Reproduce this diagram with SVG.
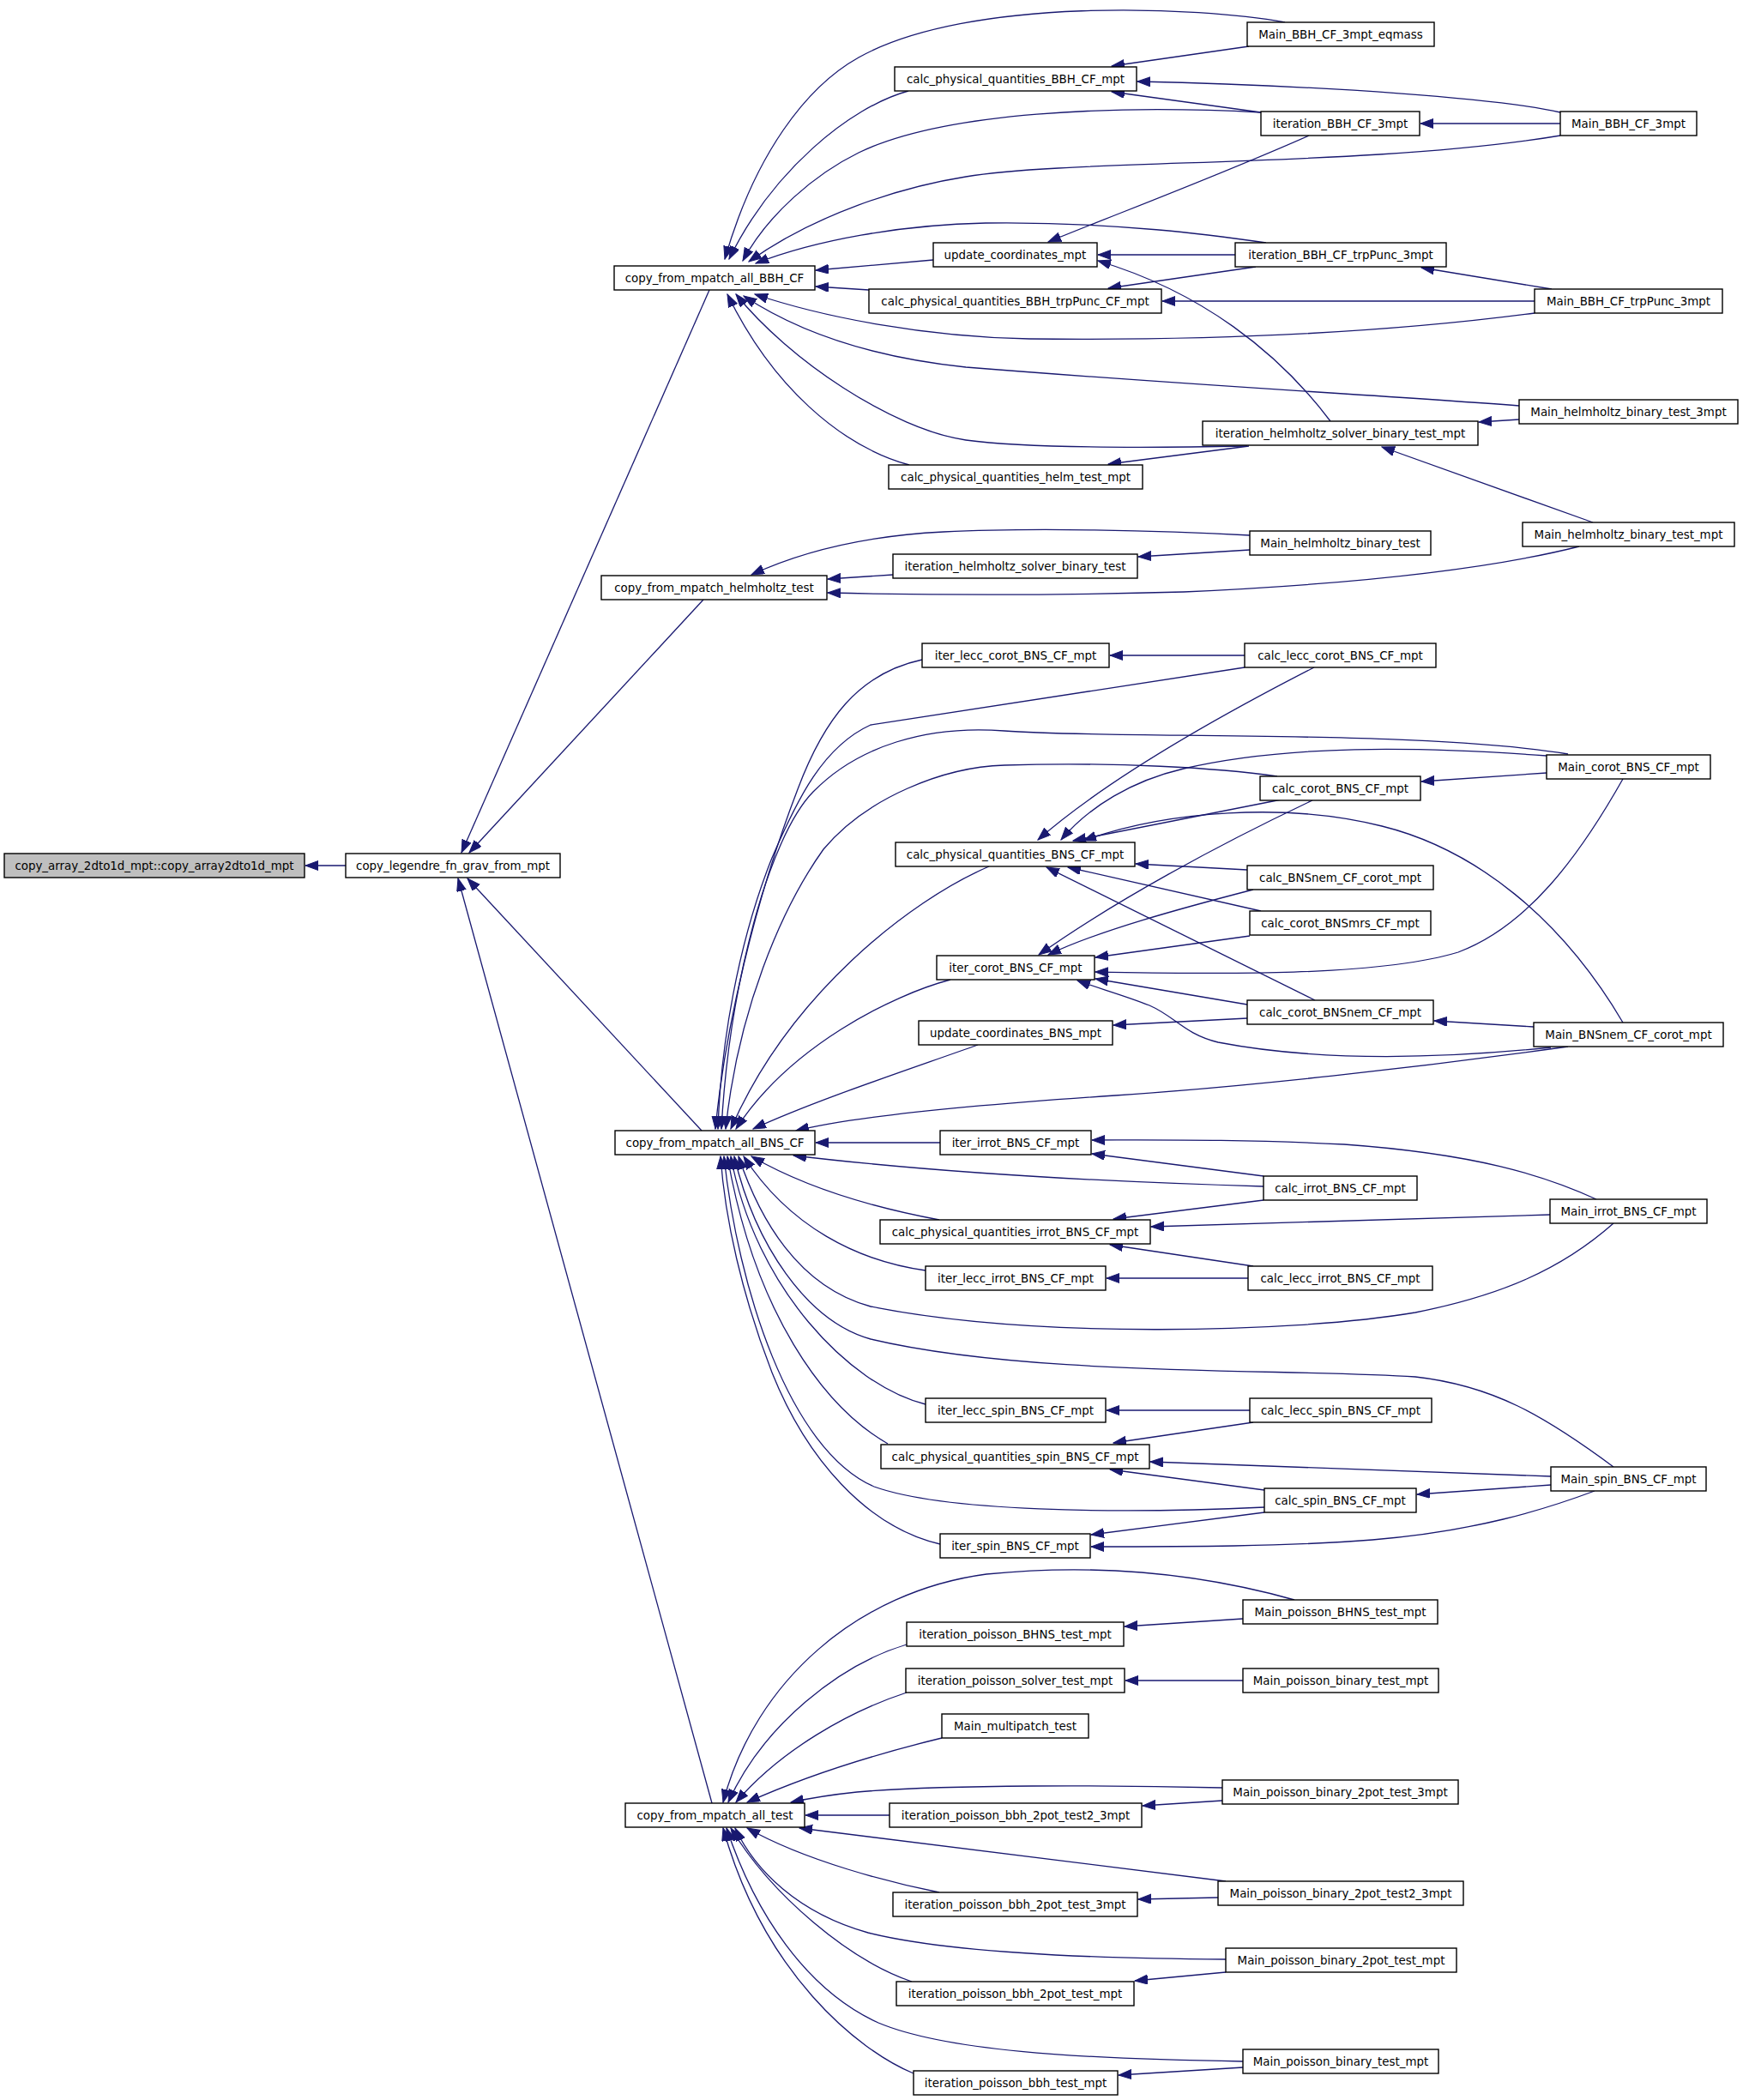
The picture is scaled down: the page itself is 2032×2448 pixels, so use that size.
<svg xmlns="http://www.w3.org/2000/svg" width="2032" height="2448" viewBox="0 0 2032 2448">
<style>
.n{fill:#ffffff;stroke:#000000;stroke-width:1.4}
.g{fill:#bfbfbf;stroke:#000000;stroke-width:1.4}
.t{font-family:"DejaVu Sans","Liberation Sans",sans-serif;font-size:13.4px;fill:#000000;text-anchor:middle}
.e{fill:none;stroke:#191970;stroke-width:1.3;marker-end:url(#ah)}
</style>
<defs>
<marker id="ah" markerUnits="userSpaceOnUse" markerWidth="16" markerHeight="12" refX="15" refY="5.5" orient="auto">
<path d="M0,0 L15,5.5 L0,11 z" fill="#191970" stroke="#191970" stroke-width="1"/>
</marker>
</defs>
<rect x="0" y="0" width="2032" height="2448" fill="#ffffff"/>
<g id="edges">
<path class="e" d="M403,1009 L356,1009"/>
<path class="e" d="M827,338 L538,994"/>
<path class="e" d="M820,699 L547,994"/>
<path class="e" d="M818,1318 L545,1024"/>
<path class="e" d="M830,2102 L534,1024"/>
<path class="e" d="M1498,26 C1400,8 1130,-5 1001,67 C940,101 880,180 845,302"/>
<path class="e" d="M1059,106 C990,125 900,200 850,302"/>
<path class="e" d="M1470,131 C1300,122 1100,130 1001,178 C950,203 895,250 866,304"/>
<path class="e" d="M1819,158 C1600,195 1250,185 1126,206 C1050,218 950,250 873,305"/>
<path class="e" d="M1088,303 L951,315"/>
<path class="e" d="M1476,283 C1420,275 1300,258 1149,260 C1050,262 950,280 881,307"/>
<path class="e" d="M1013,338 L951,334"/>
<path class="e" d="M1789,365 C1600,390 1400,397 1200,395 C1080,393 960,370 880,343"/>
<path class="e" d="M1771,473 C1600,460 1400,450 1126,428 C1050,420 950,400 867,345"/>
<path class="e" d="M1454,520 C1350,522 1200,523 1126,513 C1040,500 920,420 858,343"/>
<path class="e" d="M1060,542 C980,520 900,450 848,343"/>
<path class="e" d="M1456,54 L1296,77"/>
<path class="e" d="M1819,131 C1750,115 1550,100 1326,95"/>
<path class="e" d="M1470,131 L1296,107"/>
<path class="e" d="M1819,144 L1656,144"/>
<path class="e" d="M1526,158 C1420,205 1300,250 1222,282"/>
<path class="e" d="M1440,297 L1280,297"/>
<path class="e" d="M1551,491 C1490,410 1400,340 1280,304"/>
<path class="e" d="M1464,311 L1292,336"/>
<path class="e" d="M1789,351 L1355,351"/>
<path class="e" d="M1809,337 L1657,312"/>
<path class="e" d="M1771,489 L1724,492"/>
<path class="e" d="M1857,609 L1611,521"/>
<path class="e" d="M1456,520 L1292,541"/>
<path class="e" d="M1457,624 C1350,618 1200,615 1100,620 C1000,625 930,645 876,670"/>
<path class="e" d="M1041,670 L965,675"/>
<path class="e" d="M1841,637 C1750,660 1600,680 1380,690 C1200,695 1050,693 965,691"/>
<path class="e" d="M1457,641 L1327,649"/>
<path class="e" d="M1075,769 C1000,785 960,840 930,920 C880,1050 845,1200 834,1316"/>
<path class="e" d="M1451,778 L1015,845 C960,870 930,930 900,1000 C860,1100 840,1220 837,1316"/>
<path class="e" d="M1828,879 C1650,850 1300,862 1171,852 C1080,845 1000,870 948,923 C896,976 850,1150 841,1316"/>
<path class="e" d="M1489,905 C1420,895 1300,888 1171,892 C1100,894 1010,930 960,990 C910,1060 860,1180 846,1316"/>
<path class="e" d="M1153,1010 C1060,1050 920,1160 852,1316"/>
<path class="e" d="M1108,1142 C1040,1160 920,1220 858,1316"/>
<path class="e" d="M1140,1218 C1050,1250 950,1283 878,1316"/>
<path class="e" d="M1828,1220 C1650,1245 1450,1267 1300,1277 C1150,1287 1000,1300 928,1318"/>
<path class="e" d="M1096,1332 L951,1332"/>
<path class="e" d="M1473,1383 C1300,1378 1100,1368 925,1347"/>
<path class="e" d="M1532,778 C1450,820 1300,900 1210,979"/>
<path class="e" d="M1803,881 C1650,870 1500,868 1380,896 C1320,910 1270,940 1237,979"/>
<path class="e" d="M1494,932 L1251,980"/>
<path class="e" d="M1454,1014 L1324,1007"/>
<path class="e" d="M1470,1062 L1245,1011"/>
<path class="e" d="M1533,1166 L1220,1011"/>
<path class="e" d="M1892,1192 C1820,1070 1720,990 1611,963 C1500,935 1360,945 1263,980"/>
<path class="e" d="M1530,933 C1420,985 1300,1050 1211,1113"/>
<path class="e" d="M1461,1037 C1380,1058 1280,1085 1222,1113"/>
<path class="e" d="M1457,1091 L1277,1116"/>
<path class="e" d="M1892,908 C1840,1000 1780,1080 1700,1110 C1600,1140 1400,1135 1277,1133"/>
<path class="e" d="M1454,1171 L1277,1141"/>
<path class="e" d="M1808,1221 C1700,1232 1550,1240 1420,1215 C1380,1205 1370,1185 1340,1172 C1310,1160 1280,1152 1256,1143"/>
<path class="e" d="M1454,1187 L1298,1195"/>
<path class="e" d="M1788,1197 L1672,1190"/>
<path class="e" d="M1803,901 L1657,911"/>
<path class="e" d="M1451,764 L1294,764"/>
<path class="e" d="M1861,1398 C1800,1370 1720,1345 1567,1334 C1450,1328 1350,1329 1273,1329"/>
<path class="e" d="M1473,1371 L1273,1345"/>
<path class="e" d="M1473,1399 L1298,1421"/>
<path class="e" d="M1807,1416 L1342,1430"/>
<path class="e" d="M1461,1476 L1294,1451"/>
<path class="e" d="M1095,1422 C1020,1408 940,1385 876,1348"/>
<path class="e" d="M1455,1490 L1290,1490"/>
<path class="e" d="M1079,1481 C1000,1470 920,1430 867,1348"/>
<path class="e" d="M1881,1426 C1820,1480 1750,1510 1650,1530 C1500,1555 1200,1560 1015,1523 C930,1500 885,1420 861,1348"/>
<path class="e" d="M1881,1710 C1800,1650 1740,1615 1650,1605 C1500,1595 1200,1605 1015,1561 C940,1540 880,1450 856,1348"/>
<path class="e" d="M1079,1637 C990,1615 880,1500 852,1348"/>
<path class="e" d="M1035,1683 C960,1640 880,1530 848,1348"/>
<path class="e" d="M1474,1757 C1300,1765 1100,1762 1019,1733 C920,1690 860,1500 844,1348"/>
<path class="e" d="M1096,1800 C1010,1780 940,1700 900,1600 C865,1510 845,1420 840,1348"/>
<path class="e" d="M1457,1644 L1290,1644"/>
<path class="e" d="M1461,1658 L1298,1682"/>
<path class="e" d="M1808,1721 L1341,1704"/>
<path class="e" d="M1474,1737 L1294,1713"/>
<path class="e" d="M1808,1731 L1652,1742"/>
<path class="e" d="M1474,1763 L1272,1789"/>
<path class="e" d="M1859,1738 C1800,1760 1720,1785 1600,1795 C1500,1803 1380,1803 1272,1803"/>
<path class="e" d="M1509,1865 C1420,1840 1300,1820 1150,1835 C1000,1855 880,1960 843,2101"/>
<path class="e" d="M1057,1917 C980,1940 890,2010 849,2101"/>
<path class="e" d="M1449,1887 L1311,1896"/>
<path class="e" d="M1057,1973 C990,1995 910,2040 858,2101"/>
<path class="e" d="M1449,1959 L1312,1959"/>
<path class="e" d="M1098,2026 C1020,2045 940,2070 871,2101"/>
<path class="e" d="M1425,2084 C1300,2081 1100,2080 999,2089 C970,2092 945,2096 922,2101"/>
<path class="e" d="M1425,2099 L1332,2105"/>
<path class="e" d="M1037,2116 L939,2116"/>
<path class="e" d="M1429,2193 L932,2131"/>
<path class="e" d="M1420,2212 L1327,2214"/>
<path class="e" d="M1095,2206 C1040,2195 940,2170 871,2131"/>
<path class="e" d="M1429,2284 C1250,2283 1100,2275 1012,2253 C930,2230 880,2180 857,2131"/>
<path class="e" d="M1429,2299 L1323,2309"/>
<path class="e" d="M1063,2310 C990,2285 900,2210 852,2131"/>
<path class="e" d="M1449,2403 C1250,2400 1100,2390 1024,2358 C940,2320 880,2230 847,2131"/>
<path class="e" d="M1449,2410 L1304,2419"/>
<path class="e" d="M1065,2417 C1000,2390 890,2300 843,2131"/>
</g>
<g id="n0"><rect class="g" x="5" y="995" width="350" height="28"/><text class="t" x="180" y="1013.5">copy_array_2dto1d_mpt::copy_array2dto1d_mpt</text></g>
<g id="n1"><rect class="n" x="403" y="995" width="250" height="28"/><text class="t" x="528" y="1013.5">copy_legendre_fn_grav_from_mpt</text></g>
<g id="nA"><rect class="n" x="716" y="310" width="234" height="28"/><text class="t" x="833" y="328.5">copy_from_mpatch_all_BBH_CF</text></g>
<g id="nH"><rect class="n" x="701" y="671" width="263" height="28"/><text class="t" x="832.5" y="689.5">copy_from_mpatch_helmholtz_test</text></g>
<g id="nB"><rect class="n" x="717" y="1318" width="233" height="28"/><text class="t" x="833.5" y="1336.5">copy_from_mpatch_all_BNS_CF</text></g>
<g id="nT"><rect class="n" x="729" y="2102" width="209" height="28"/><text class="t" x="833.5" y="2120.5">copy_from_mpatch_all_test</text></g>
<g id="nP1"><rect class="n" x="1043" y="78" width="282" height="28"/><text class="t" x="1184" y="96.5">calc_physical_quantities_BBH_CF_mpt</text></g>
<g id="nU1"><rect class="n" x="1088" y="283" width="191" height="28"/><text class="t" x="1183.5" y="301.5">update_coordinates_mpt</text></g>
<g id="nP2"><rect class="n" x="1013" y="337" width="341" height="28"/><text class="t" x="1183.5" y="355.5">calc_physical_quantities_BBH_trpPunc_CF_mpt</text></g>
<g id="nP3"><rect class="n" x="1036" y="542" width="296" height="28"/><text class="t" x="1184" y="560.5">calc_physical_quantities_helm_test_mpt</text></g>
<g id="nI4"><rect class="n" x="1041" y="646" width="285" height="28"/><text class="t" x="1183.5" y="664.5">iteration_helmholtz_solver_binary_test</text></g>
<g id="nILC"><rect class="n" x="1075" y="750" width="218" height="28"/><text class="t" x="1184" y="768.5">iter_lecc_corot_BNS_CF_mpt</text></g>
<g id="nP4"><rect class="n" x="1044" y="982" width="279" height="28"/><text class="t" x="1183.5" y="1000.5">calc_physical_quantities_BNS_CF_mpt</text></g>
<g id="nIC"><rect class="n" x="1092" y="1114" width="184" height="28"/><text class="t" x="1184" y="1132.5">iter_corot_BNS_CF_mpt</text></g>
<g id="nUB"><rect class="n" x="1071" y="1190" width="226" height="28"/><text class="t" x="1184" y="1208.5">update_coordinates_BNS_mpt</text></g>
<g id="nII"><rect class="n" x="1096" y="1318" width="176" height="28"/><text class="t" x="1184" y="1336.5">iter_irrot_BNS_CF_mpt</text></g>
<g id="nP5"><rect class="n" x="1026" y="1422" width="315" height="28"/><text class="t" x="1183.5" y="1440.5">calc_physical_quantities_irrot_BNS_CF_mpt</text></g>
<g id="nILI"><rect class="n" x="1079" y="1476" width="210" height="28"/><text class="t" x="1184" y="1494.5">iter_lecc_irrot_BNS_CF_mpt</text></g>
<g id="nILS"><rect class="n" x="1079" y="1630" width="210" height="28"/><text class="t" x="1184" y="1648.5">iter_lecc_spin_BNS_CF_mpt</text></g>
<g id="nP6"><rect class="n" x="1027" y="1684" width="313" height="28"/><text class="t" x="1183.5" y="1702.5">calc_physical_quantities_spin_BNS_CF_mpt</text></g>
<g id="nIS"><rect class="n" x="1096" y="1788" width="175" height="28"/><text class="t" x="1183.5" y="1806.5">iter_spin_BNS_CF_mpt</text></g>
<g id="nIPB"><rect class="n" x="1057" y="1891" width="253" height="28"/><text class="t" x="1183.5" y="1909.5">iteration_poisson_BHNS_test_mpt</text></g>
<g id="nIPS"><rect class="n" x="1056" y="1945" width="255" height="28"/><text class="t" x="1183.5" y="1963.5">iteration_poisson_solver_test_mpt</text></g>
<g id="nMMT"><rect class="n" x="1098" y="1998" width="171" height="28"/><text class="t" x="1183.5" y="2016.5">Main_multipatch_test</text></g>
<g id="nIB2T2"><rect class="n" x="1037" y="2102" width="294" height="28"/><text class="t" x="1184" y="2120.5">iteration_poisson_bbh_2pot_test2_3mpt</text></g>
<g id="nIB2T3"><rect class="n" x="1041" y="2206" width="285" height="28"/><text class="t" x="1183.5" y="2224.5">iteration_poisson_bbh_2pot_test_3mpt</text></g>
<g id="nIB2M"><rect class="n" x="1045" y="2310" width="277" height="28"/><text class="t" x="1183.5" y="2328.5">iteration_poisson_bbh_2pot_test_mpt</text></g>
<g id="nIBT"><rect class="n" x="1065" y="2414" width="238" height="28"/><text class="t" x="1184" y="2432.5">iteration_poisson_bbh_test_mpt</text></g>
<g id="nMEQ"><rect class="n" x="1454" y="26" width="218" height="28"/><text class="t" x="1563" y="44.5">Main_BBH_CF_3mpt_eqmass</text></g>
<g id="nI1"><rect class="n" x="1470" y="130" width="185" height="28"/><text class="t" x="1562.5" y="148.5">iteration_BBH_CF_3mpt</text></g>
<g id="nI2"><rect class="n" x="1440" y="283" width="246" height="28"/><text class="t" x="1563" y="301.5">iteration_BBH_CF_trpPunc_3mpt</text></g>
<g id="nI3"><rect class="n" x="1402" y="491" width="321" height="28"/><text class="t" x="1562.5" y="509.5">iteration_helmholtz_solver_binary_test_mpt</text></g>
<g id="nMHB"><rect class="n" x="1457" y="619" width="211" height="28"/><text class="t" x="1562.5" y="637.5">Main_helmholtz_binary_test</text></g>
<g id="nCLC"><rect class="n" x="1451" y="750" width="223" height="28"/><text class="t" x="1562.5" y="768.5">calc_lecc_corot_BNS_CF_mpt</text></g>
<g id="nCC"><rect class="n" x="1469" y="905" width="187" height="28"/><text class="t" x="1562.5" y="923.5">calc_corot_BNS_CF_mpt</text></g>
<g id="nCNC"><rect class="n" x="1454" y="1009" width="217" height="28"/><text class="t" x="1562.5" y="1027.5">calc_BNSnem_CF_corot_mpt</text></g>
<g id="nCMR"><rect class="n" x="1457" y="1062" width="211" height="28"/><text class="t" x="1562.5" y="1080.5">calc_corot_BNSmrs_CF_mpt</text></g>
<g id="nCN"><rect class="n" x="1454" y="1166" width="217" height="28"/><text class="t" x="1562.5" y="1184.5">calc_corot_BNSnem_CF_mpt</text></g>
<g id="nCI"><rect class="n" x="1473" y="1371" width="179" height="28"/><text class="t" x="1562.5" y="1389.5">calc_irrot_BNS_CF_mpt</text></g>
<g id="nCLI"><rect class="n" x="1455" y="1476" width="215" height="28"/><text class="t" x="1562.5" y="1494.5">calc_lecc_irrot_BNS_CF_mpt</text></g>
<g id="nCLS"><rect class="n" x="1457" y="1630" width="212" height="28"/><text class="t" x="1563" y="1648.5">calc_lecc_spin_BNS_CF_mpt</text></g>
<g id="nCS"><rect class="n" x="1474" y="1735" width="177" height="28"/><text class="t" x="1562.5" y="1753.5">calc_spin_BNS_CF_mpt</text></g>
<g id="nMPBH"><rect class="n" x="1449" y="1865" width="227" height="28"/><text class="t" x="1562.5" y="1883.5">Main_poisson_BHNS_test_mpt</text></g>
<g id="nMPB1"><rect class="n" x="1449" y="1945" width="228" height="28"/><text class="t" x="1563" y="1963.5">Main_poisson_binary_test_mpt</text></g>
<g id="nMP2T3"><rect class="n" x="1425" y="2075" width="275" height="28"/><text class="t" x="1562.5" y="2093.5">Main_poisson_binary_2pot_test_3mpt</text></g>
<g id="nMP2T2"><rect class="n" x="1420" y="2193" width="286" height="28"/><text class="t" x="1563" y="2211.5">Main_poisson_binary_2pot_test2_3mpt</text></g>
<g id="nMP2M"><rect class="n" x="1429" y="2271" width="269" height="28"/><text class="t" x="1563.5" y="2289.5">Main_poisson_binary_2pot_test_mpt</text></g>
<g id="nMPB2"><rect class="n" x="1449" y="2389" width="228" height="28"/><text class="t" x="1563" y="2407.5">Main_poisson_binary_test_mpt</text></g>
<g id="nMB3"><rect class="n" x="1819" y="130" width="159" height="28"/><text class="t" x="1898.5" y="148.5">Main_BBH_CF_3mpt</text></g>
<g id="nMBT"><rect class="n" x="1789" y="337" width="219" height="28"/><text class="t" x="1898.5" y="355.5">Main_BBH_CF_trpPunc_3mpt</text></g>
<g id="nMH3"><rect class="n" x="1771" y="466" width="255" height="28"/><text class="t" x="1898.5" y="484.5">Main_helmholtz_binary_test_3mpt</text></g>
<g id="nMHM"><rect class="n" x="1775" y="609" width="247" height="28"/><text class="t" x="1898.5" y="627.5">Main_helmholtz_binary_test_mpt</text></g>
<g id="nMC"><rect class="n" x="1803" y="880" width="191" height="28"/><text class="t" x="1898.5" y="898.5">Main_corot_BNS_CF_mpt</text></g>
<g id="nMBN"><rect class="n" x="1788" y="1192" width="221" height="28"/><text class="t" x="1898.5" y="1210.5">Main_BNSnem_CF_corot_mpt</text></g>
<g id="nMI"><rect class="n" x="1807" y="1398" width="183" height="28"/><text class="t" x="1898.5" y="1416.5">Main_irrot_BNS_CF_mpt</text></g>
<g id="nMS"><rect class="n" x="1808" y="1710" width="181" height="28"/><text class="t" x="1898.5" y="1728.5">Main_spin_BNS_CF_mpt</text></g>
</svg>
